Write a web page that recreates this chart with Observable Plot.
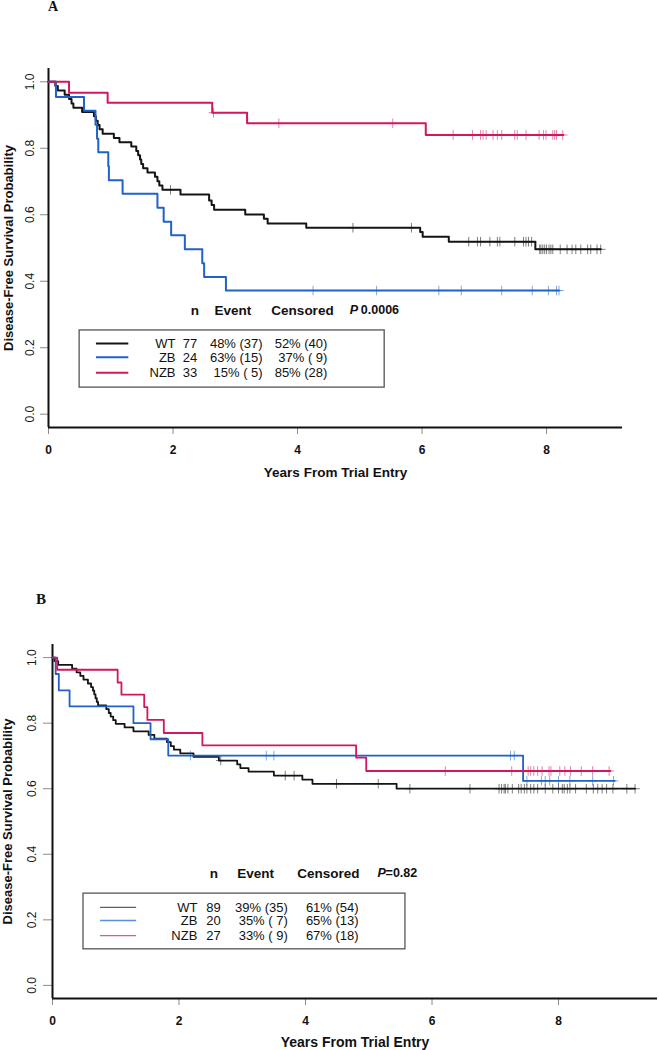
<!DOCTYPE html>
<html><head><meta charset="utf-8">
<script src="https://cdn.jsdelivr.net/npm/d3@7"></script>
<script src="https://cdn.jsdelivr.net/npm/@observablehq/plot@0.6"></script>
<style>
html,body{margin:0;padding:0;background:#fff;}
#wrap{position:relative;width:659px;height:1050px;overflow:hidden;font-family:"Liberation Sans",Arial,sans-serif;background:#fff;}
#wrap svg{position:absolute;left:0;}
.panel{position:absolute;font-family:"Liberation Serif","Times New Roman",serif;font-weight:bold;line-height:1;color:#111;}
</style></head><body><div id="wrap"></div>
<script>
// ---------- shared ----------
const groupNames = ["WT", "ZB", "NZB"];
const yTicks = [0, 0.2, 0.4, 0.6, 0.8, 1.0];
const xTicks = [0, 2, 4, 6, 8];
const xTitle = "Years From Trial Entry";
const yTitle = "Disease-Free Survival Probability";
const legendHeader = ["n", "Event", "Censored"];

// ---------- Panel A ----------
const wtA_t = [0.11,0.15,0.26,0.33,0.37,0.40,0.54,0.73,0.76,0.79,0.82,0.87,1.05,1.14,1.33,1.41,1.44,1.47,1.49,1.52,1.59,1.71,1.75,1.78,1.83,2.12,2.58,2.62,2.66,3.16,3.46,3.52,4.14,5.97,6.01,6.43,7.82];
const wtA_s = [0.987,0.974,0.961,0.948,0.935,0.922,0.909,0.896,0.883,0.870,0.857,0.844,0.831,0.818,0.805,0.792,0.779,0.766,0.753,0.740,0.727,0.714,0.701,0.688,0.675,0.661,0.643,0.629,0.615,0.601,0.588,0.574,0.561,0.548,0.534,0.519,0.496];
const wtA_end = 8.87;
const wtA_c = [1.96,4.89,5.83,6.75,6.89,6.94,7.09,7.21,7.25,7.49,7.63,7.67,7.71,7.76,7.89,7.91,7.94,7.97,8.00,8.04,8.07,8.10,8.22,8.33,8.41,8.47,8.55,8.66,8.71,8.81,8.87];

const zbA_t = [0.12,0.57,0.755,0.78,0.80,0.96,0.97,1.19,1.75,1.85,1.97,2.19,2.47,2.50,2.85];
const zbA_s = [0.954,0.913,0.871,0.829,0.788,0.746,0.704,0.663,0.621,0.579,0.538,0.496,0.454,0.413,0.372];
const zbA_end = 8.20;
const zbA_c = [4.25,5.27,6.27,6.63,7.28,7.77,8.03,8.16,8.20];

const nzbA_t = [0.33,0.95,2.63,3.19,6.06];
const nzbA_s = [0.967,0.937,0.907,0.875,0.840];
const nzbA_end = 8.27;
const nzbA_c = [2.65,3.70,5.53,6.50,6.81,6.94,6.98,7.03,7.14,7.21,7.28,7.49,7.53,7.67,7.88,7.95,7.99,8.10,8.13,8.16,8.26];

const nA = [77, 24, 33];
const eventA = ["48% (37)", "63% (15)", "15% ( 5)"];
const censA = ["52% (40)", "37% ( 9)", "85% (28)"];
const pA = "0.0006";

// ---------- Panel B ----------
const wtB_t = [0.03,0.09,0.31,0.38,0.44,0.49,0.56,0.61,0.64,0.66,0.68,0.70,0.72,0.85,0.89,0.92,0.96,1.00,1.14,1.28,1.52,1.61,1.81,1.87,1.92,2.02,2.23,2.63,2.92,2.97,3.10,3.50,3.95,4.11,5.44];
const wtB_s = [0.989,0.978,0.966,0.955,0.944,0.933,0.921,0.910,0.899,0.888,0.876,0.865,0.854,0.843,0.831,0.820,0.809,0.798,0.787,0.775,0.764,0.753,0.742,0.730,0.719,0.708,0.697,0.686,0.674,0.663,0.652,0.640,0.628,0.615,0.600];
const wtB_end = 9.21;
const wtB_c = [2.66,3.68,3.82,4.49,5.15,5.65,6.60,7.06,7.10,7.14,7.16,7.20,7.27,7.37,7.41,7.46,7.50,7.56,7.61,7.67,7.79,7.91,8.00,8.06,8.09,8.14,8.18,8.27,8.44,8.55,8.62,8.69,8.76,8.86,9.08,9.21];

const zbB_t = [0.05,0.10,0.27,1.28,1.55,1.83,7.44];
const zbB_s = [0.950,0.900,0.851,0.800,0.751,0.701,0.624];
const zbB_end = 8.89;
const zbB_c = [2.18,3.38,3.50,7.24,7.30,7.50,7.73,7.79,7.86,8.00,8.18,8.54,8.87];

const nzbB_t = [0.074,1.03,1.09,1.45,1.50,1.76,2.37,4.80,4.96];
const nzbB_s = [0.963,0.924,0.887,0.849,0.810,0.770,0.732,0.695,0.654];
const nzbB_end = 8.82;
const nzbB_c = [6.21,7.26,7.52,7.56,7.61,7.67,7.74,7.85,7.88,8.02,8.10,8.19,8.36,8.54,8.80];

const nB = [89, 20, 27];
const eventB = ["39% (35)", "35% ( 7)", "33% ( 9)"];
const censB = ["61% (54)", "65% (13)", "67% (18)"];
const pB = "=0.82";

// ---------- helpers ----------
function survAt(t, times, surv) {
  let s = 1;
  for (let i = 0; i < times.length; i++) if (times[i] <= t) s = surv[i];
  return s;
}
function curve(times, surv, end) {
  const pts = [{x: 0, y: 1}];
  times.forEach((t, i) => pts.push({x: t, y: surv[i]}));
  pts.push({x: end, y: surv[surv.length - 1]});
  return pts;
}
function cens(c, times, surv) {
  return c.map(t => ({x: t, y: survAt(t, times, surv)}));
}

const FONT = '"Liberation Sans", Arial, sans-serif';

function panel(o) {
  const marks = [];
  marks.push(Plot.axisY({ticks: yTicks, tickSize: o.yTickSize, stroke: "#8a8a8a", fill: "none", label: null}));
  marks.push(Plot.text(yTicks, {y: d => d, text: d => d.toFixed(1), frameAnchor: "left", textAnchor: "middle", lineAnchor: "middle", dx: o.yLabDx, rotate: -90, fontSize: 12, fill: "#1a1a1a"}));
  marks.push(Plot.axisX({ticks: xTicks, tickSize: 7, tickPadding: 11, stroke: "#8a8a8a", fill: "#111", fontSize: 12, fontWeight: "bold", tickFormat: d => String(d), label: null}));
  marks.push(Plot.ruleY([o.yDomain[0]], {stroke: "#111", strokeWidth: 2}));
  marks.push(Plot.ruleX([0], {stroke: "#111", strokeWidth: 2}));
  marks.push(Plot.text([xTitle], {text: d => d, frameAnchor: "bottom", textAnchor: "middle", lineAnchor: "middle", dy: o.xTitleDy, fontSize: o.titleSize, fontWeight: "bold", fill: "#111"}));
  marks.push(Plot.text([yTitle], {text: d => d, frameAnchor: "left", textAnchor: "middle", lineAnchor: "middle", dx: o.yTitleDx, rotate: -90, fontSize: 13, fontWeight: "bold", fill: "#111"}));

  // legend box
  const L = o.leg;
  marks.push(Plot.rect([0], {x1: () => L.x1, x2: () => L.x2, y1: () => L.y1, y2: () => L.y2, fill: "white", stroke: "#555", strokeWidth: 1.3}));
  // header
  marks.push(Plot.text([legendHeader[0]], {x: () => L.hN, y: () => L.hy, text: d => d, fontSize: 13.5, fontWeight: "bold", fill: "#111"}));
  marks.push(Plot.text([legendHeader[1]], {x: () => L.hE, y: () => L.hy, text: d => d, fontSize: 13.5, fontWeight: "bold", fill: "#111"}));
  marks.push(Plot.text([legendHeader[2]], {x: () => L.hC, y: () => L.hy, text: d => d, fontSize: 13.5, fontWeight: "bold", fill: "#111"}));
  marks.push(Plot.text(["P"], {x: () => L.hP, y: () => L.hy, text: d => d, textAnchor: "start", fontSize: 12.5, fontWeight: "bold", fontStyle: "italic", fill: "#111"}));
  marks.push(Plot.text([o.p], {x: () => L.hP, y: () => L.hy, dx: o.pDx, text: d => d, textAnchor: "start", fontSize: 12.5, fontWeight: "bold", fill: "#111"}));
  // rows
  groupNames.forEach((g, i) => {
    const ry = L.rows[i];
    marks.push(Plot.ruleY([ry], {x1: L.lx1, x2: L.lx2, stroke: o.legColors[i], strokeWidth: o.legWidth}));
    marks.push(Plot.text([g], {x: () => L.cName, y: () => ry, text: d => d, textAnchor: "end", fontSize: 13, fill: "#111"}));
    marks.push(Plot.text([o.n[i]], {x: () => L.cN, y: () => ry, text: d => String(d), textAnchor: "end", fontSize: 13, fill: "#111"}));
    marks.push(Plot.text([o.ev[i]], {x: () => L.cE, y: () => ry, text: d => d, textAnchor: "end", fontSize: 13, fill: "#111"}));
    marks.push(Plot.text([o.ce[i]], {x: () => L.cC, y: () => ry, text: d => d, textAnchor: "end", fontSize: 13, fill: "#111"}));
  });

  // curves
  o.series.forEach(s => {
    marks.push(Plot.line(curve(s.t, s.s, s.end), {x: "x", y: "y", curve: "step-after", stroke: s.color, strokeWidth: o.lineWidth}));
    marks.push(Plot.dot(cens(s.c, s.t, s.s), {x: "x", y: "y", symbol: "plus", r: 3.2, stroke: s.color, strokeWidth: 1, strokeOpacity: 0.55}));
  });

  return Plot.plot({
    width: 659, height: o.height,
    marginTop: o.mt, marginBottom: o.mb, marginLeft: o.ml, marginRight: o.mr,
    x: {domain: o.xDomain},
    y: {domain: o.yDomain},
    style: {fontFamily: FONT, background: "transparent", overflow: "visible"},
    marks
  });
}

const BLACK = "#141414", BLUE = "#1f62c9", RED = "#d2175f";

const svgA = panel({
  height: 480, mt: 68, mb: 53, ml: 48, mr: 37,
  xDomain: [0, 9.22], yDomain: [-0.04, 1.04],
  yTickSize: 8, yLabDx: -18, yTitleDx: -40, titleSize: 13.5, xTitleDy: 45,
  lineWidth: 2, legWidth: 2,
  legColors: [BLACK, BLUE, RED],
  n: nA, ev: eventA, ce: censA, p: pA, pDx: 11,
  leg: {x1: 0.5, x2: 5.4, y1: 0.080, y2: 0.252, hy: 0.312, hN: 2.35, hE: 2.96, hC: 4.08, hP: 4.84,
        rows: [0.213, 0.171, 0.125], lx1: 0.77, lx2: 1.29, cName: 2.04, cN: 2.39, cE: 3.44, cC: 4.48},
  series: [
    {t: wtA_t, s: wtA_s, end: wtA_end, c: wtA_c, color: BLACK},
    {t: zbA_t, s: zbA_s, end: zbA_end, c: zbA_c, color: BLUE},
    {t: nzbA_t, s: nzbA_s, end: nzbA_end, c: nzbA_c, color: RED}
  ]
});
svgA.style.top = "0px";

const svgB = panel({
  height: 490, mt: 84, mb: 52, ml: 52, mr: 2,
  xDomain: [0, 9.565], yDomain: [-0.04, 1.04],
  yTickSize: 9, yLabDx: -20, yTitleDx: -45, titleSize: 14, xTitleDy: 44,
  lineWidth: 1.8, legWidth: 1.3,
  legColors: ["#5e5e5e", "#5a8ee0", "#e0578b"],
  n: nB, ev: eventB, ce: censB, p: pB, pDx: 8,
  leg: {x1: 0.49, x2: 5.58, y1: 0.110, y2: 0.280, hy: 0.342, hN: 2.55, hE: 3.21, hC: 4.36, hP: 5.14,
        rows: [0.238, 0.198, 0.152], lx1: 0.76, lx2: 1.33, cName: 2.29, cN: 2.66, cE: 3.72, cC: 4.84},
  series: [
    {t: wtB_t, s: wtB_s, end: wtB_end, c: wtB_c, color: BLACK},
    {t: zbB_t, s: zbB_s, end: zbB_end, c: zbB_c, color: BLUE},
    {t: nzbB_t, s: nzbB_s, end: nzbB_end, c: nzbB_c, color: RED}
  ]
});
svgB.style.top = "560px";

const wrap = document.getElementById("wrap");
wrap.appendChild(svgA);
wrap.appendChild(svgB);

const la = document.createElement("div");
la.className = "panel"; la.textContent = "A";
la.style.left = "48px"; la.style.top = "0px"; la.style.fontSize = "14px";
wrap.appendChild(la);
const lb = document.createElement("div");
lb.className = "panel"; lb.textContent = "B";
lb.style.left = "36px"; lb.style.top = "592px"; lb.style.fontSize = "15px";
wrap.appendChild(lb);
</script></body></html>
